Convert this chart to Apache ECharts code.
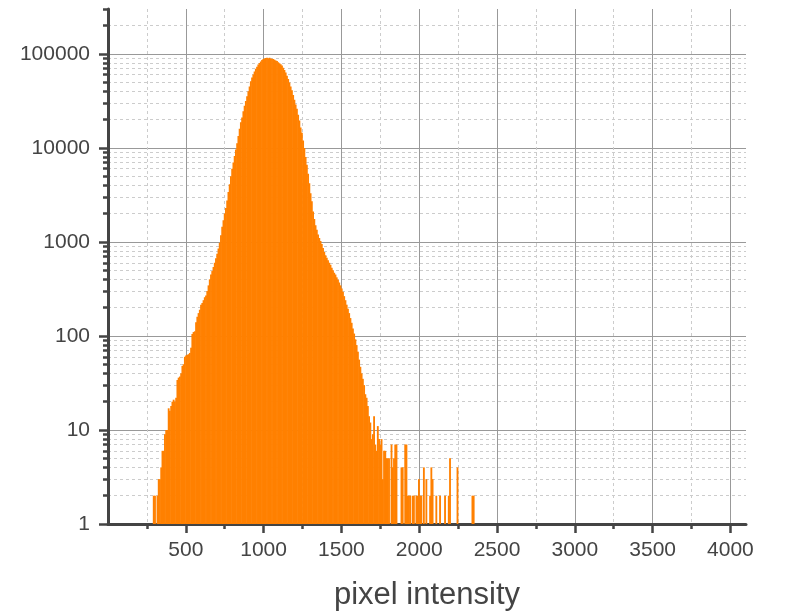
<!DOCTYPE html>
<html>
<head>
<meta charset="utf-8">
<script src="https://cdn.jsdelivr.net/npm/echarts@6/dist/echarts.min.js"></script>
<style>
  html, body { margin: 0; padding: 0; background: #fff; }
  #chart { width: 791px; height: 616px; }
</style>
</head>
<body>
<div id="chart"></div>
<script>
// histogram bins: first bin starts at binStart, every bin is binWidth wide
const binStart = 288;
const binWidth = 8;
const counts = [
  2, 2, 1, 2, 3, 3, 4, 6, 6, 9,
  10, 10, 17, 16, 18, 20, 21, 20, 22, 34,
  36, 37, 40, 48, 50, 60, 62, 63, 64, 66,
  75, 105, 110, 112, 140, 160, 175, 190, 215, 224,
  240, 258, 270, 300, 345, 400, 450, 490, 540, 600,
  670, 750, 850, 980, 1180, 1450, 1700, 2000, 2300, 2750,
  3400, 4100, 5000, 6000, 7000, 8200, 9600, 11200, 13400, 16000,
  18700, 21000, 24500, 28000, 31500, 35500, 40000, 45000, 51000, 56000,
  60500, 65000, 69500, 73000, 77000, 80000, 83000, 86000, 88000, 89500,
  90500, 91000, 90000, 91000, 89500, 88500, 88000, 86500, 85000, 84000,
  81500, 79500, 77500, 75000, 71000, 67500, 63500, 58500, 54000, 49500,
  45000, 41000, 36500, 32500, 29000, 26000, 22500, 19500, 16500, 14500,
  12000, 10000, 8000, 6600, 5300, 4200, 3300, 2700, 2100, 1750,
  1500, 1350, 1200, 1100, 1020, 950, 860, 780, 720, 680,
  640, 600, 570, 530, 500, 470, 450, 420, 395, 370,
  345, 320, 295, 265, 240, 215, 195, 175, 155, 138,
  120, 106, 92, 80, 68, 56, 47, 40, 35, 30,
  24, 22, 18, 14, 12, 8, 9, 14, 7, 6,
  11, 8, 7, 8, 3, 6, 6, 5, 5, 5,
  1, 7, 4, 5, 7, 7, 1, 0, 1, 4,
  4, 1, 7, 7, 2, 2, 2, 0, 2, 2,
  0, 2, 2, 3, 2, 2, 0, 4, 1, 3,
  0, 0, 2, 4, 3, 0, 0, 2, 0, 0,
  2, 0, 0, 0, 2, 0, 0, 2, 5, 0,
  0, 0, 0, 0, 4, 0, 0, 0, 0, 0,
  0, 0, 0, 0, 0, 0, 2, 2
];

const xMajorTicks = [500, 1000, 1500, 2000, 2500, 3000, 3500, 4000];
const xMinorTicks = [250, 750, 1250, 1750, 2250, 2750, 3250, 3750];
const yMajorTicks = [1, 10, 100, 1000, 10000, 100000];
const yMinorTicks = [
  2, 3, 4, 5, 6, 7, 8, 9,
  20, 30, 40, 50, 60, 70, 80, 90,
  200, 300, 400, 500, 600, 700, 800, 900,
  2000, 3000, 4000, 5000, 6000, 7000, 8000, 9000,
  20000, 30000, 40000, 50000, 60000, 70000, 80000, 90000,
  200000, 300000
];

const font = "'Liberation Sans', Arial, sans-serif";
const ink = '#444';

const bins = counts
  .map((c, i) => [binStart + i * binWidth, c])
  .filter(d => d[1] > 0);

const chart = echarts.init(document.getElementById('chart'), null, { renderer: 'canvas' });

chart.setOption({
  animation: false,
  backgroundColor: '#fff',
  grid: { left: 108, right: 45, top: 9, bottom: 92 },
  xAxis: [{
    type: 'value', min: 0, max: 4100, position: 'bottom',
    name: 'pixel intensity', nameLocation: 'middle', nameGap: 56,
    nameTextStyle: { fontSize: 31, color: ink, fontFamily: font },
    axisLine: { show: true, onZero: false, lineStyle: { color: ink, width: 3 } },
    axisTick: { show: true, customValues: xMajorTicks, length: 9, lineStyle: { color: ink, width: 2.5 } },
    axisLabel: {
      customValues: xMajorTicks, fontSize: 21, color: ink, fontFamily: font, margin: 16,
      formatter: v => String(v)
    },
    splitLine: { show: true, lineStyle: { color: '#999', width: 1 } }
  }, {
    type: 'value', min: 0, max: 4100, position: 'bottom',
    axisLine: { show: false, onZero: false },
    axisTick: { show: true, customValues: xMinorTicks, length: 5, lineStyle: { color: ink, width: 2.5 } },
    axisLabel: { show: false },
    splitLine: { show: true, lineStyle: { color: '#ccc', width: 1, type: [3, 3] } }
  }],
  yAxis: [{
    type: 'log', logBase: 10, min: 1, max: 300000, position: 'left',
    axisLine: { show: true, onZero: false, lineStyle: { color: ink, width: 3 } },
    axisTick: { show: true, customValues: yMajorTicks, length: 9, lineStyle: { color: ink, width: 2.5 } },
    axisLabel: {
      customValues: yMajorTicks, fontSize: 21, color: ink, fontFamily: font, margin: 18,
      formatter: v => String(v)
    },
    splitLine: { show: true, lineStyle: { color: '#999', width: 1 } }
  }, {
    type: 'log', logBase: 10, min: 1, max: 300000, position: 'left',
    axisLine: { show: false, onZero: false },
    axisTick: { show: true, customValues: yMinorTicks, length: 5, lineStyle: { color: ink, width: 2.5 } },
    axisLabel: { show: false },
    splitLine: { show: true, showMaxLine: false, lineStyle: { color: '#ccc', width: 1, type: [3, 3] } }
  }],
  series: [{
    type: 'custom',
    xAxisIndex: 0,
    yAxisIndex: 0,
    clip: true,
    data: bins,
    renderItem: function (params, api) {
      const x = api.value(0);
      const c = api.value(1);
      const top = api.coord([x, c]);
      const base = api.coord([x + binWidth, 1]);
      // slight overlap so neighbouring bins read as one solid fill
      return {
        type: 'rect',
        shape: { x: top[0], y: top[1], width: base[0] - top[0] + 0.6, height: base[1] - top[1] },
        style: { fill: '#ff8000' }
      };
    }
  }]
});
</script>
</body>
</html>
